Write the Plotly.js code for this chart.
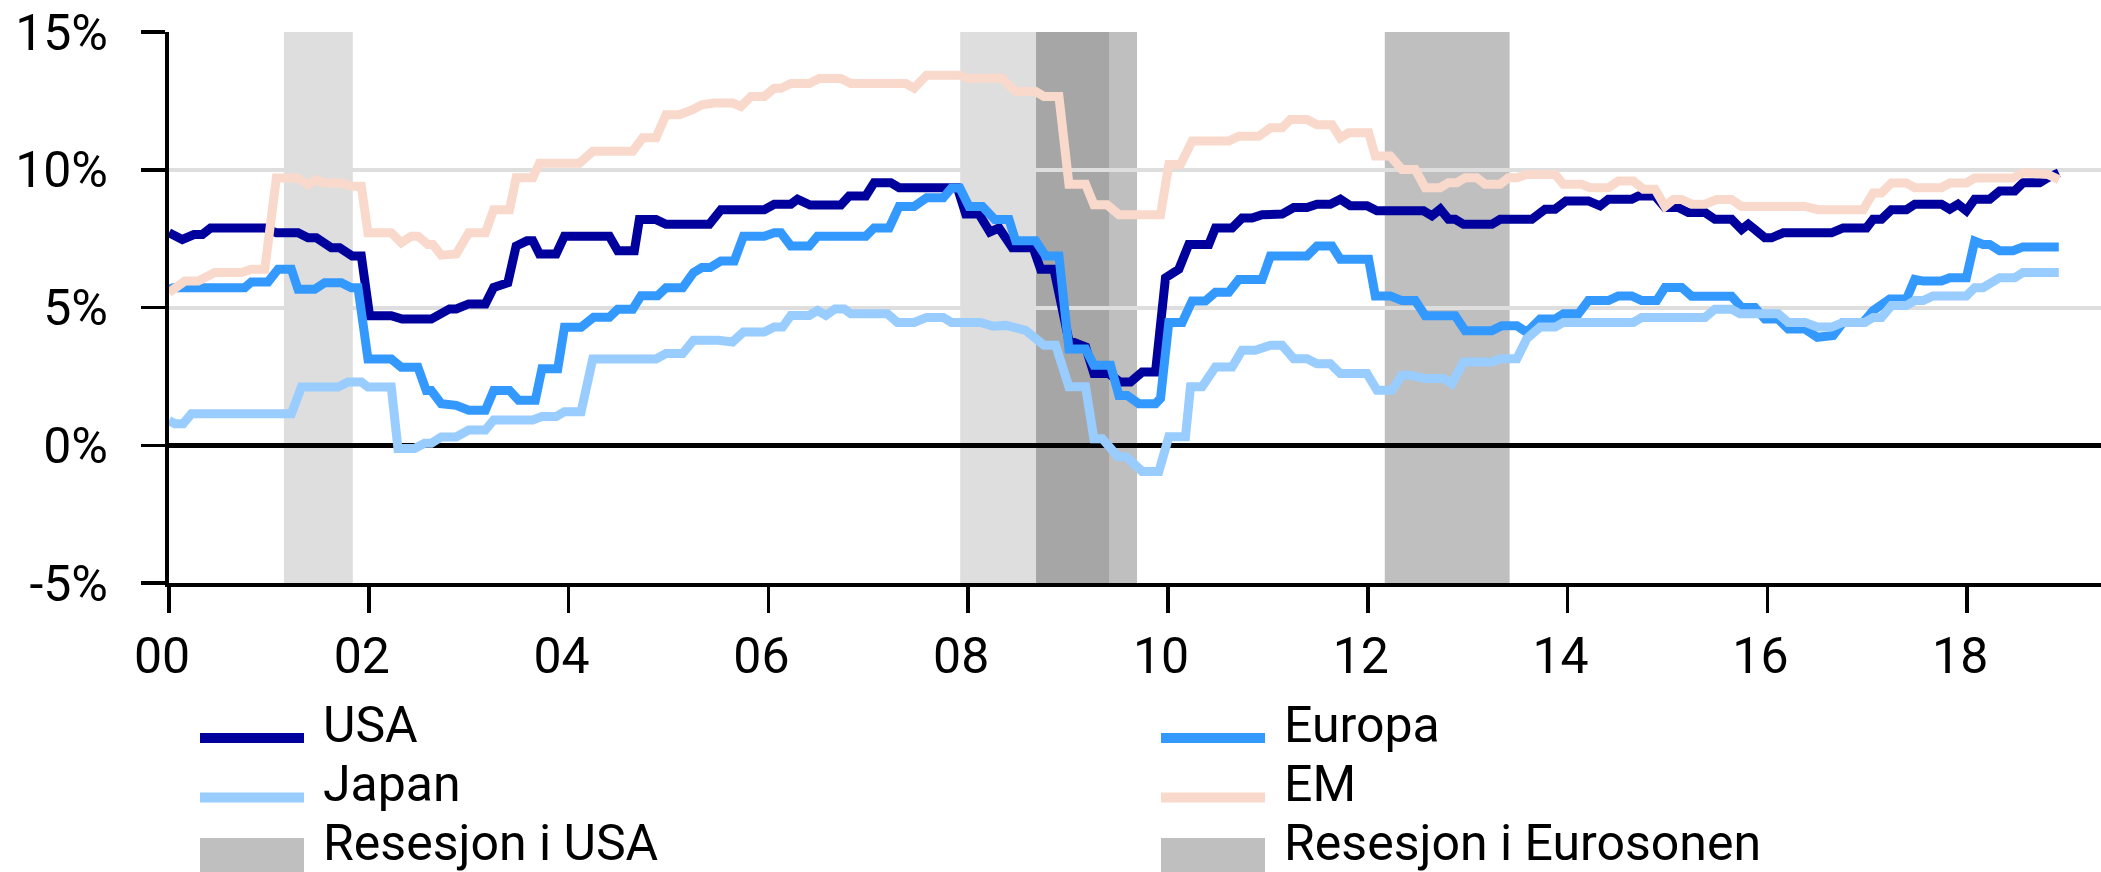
<!DOCTYPE html>
<html><head><meta charset="utf-8">
<script src="https://cdn.plot.ly/plotly-3.0.1.min.js"></script>
<style>html,body{margin:0;padding:0;background:#fff;overflow:hidden}#chart{width:2101px;height:872px}</style>
</head><body><div id="chart"></div>
<script>
// ---- data (months since Jan 2000, value in %) ----
const seriesNames = ['USA', 'Europa', 'Japan', 'EM'];
const seriesColors = ['#00009C', '#3399FF', '#99CCFF', '#F9D9CB'];

const usaMonths = [0,1.6,3,4,5,11.5,12.9,15.5,16.7,17.7,19.5,20.5,22,23.1,24.1,26.7,28,31.5,33.7,34.5,36,38,39,40.7,41.7,43,43.7,44.5,46.5,47.5,52.9,53.9,55.9,56.5,58.5,59.7,64.9,66.3,71.5,72.7,74.7,75.5,77,80.7,81.7,83.7,84.7,86.7,87.7,94.7,95.7,97.3,98.6,99.7,101.3,103.8,104.7,106.3,108.1,110.1,111.1,112.9,114.2,115.5,116.9,118.5,119.7,121.3,122.5,124.9,125.7,127.7,128.9,130.1,131.3,133.7,135.1,136.7,137.9,139.5,140.7,141.9,143.9,145.1,150.7,151.7,152.7,153.7,154.5,155.5,158.9,159.9,163.7,165.3,166.5,167.8,170.5,171.9,172.9,175.7,176.5,178.5,179.7,181.3,182.5,184.5,185.7,187.7,188.9,189.7,190.5,191.7,192.5,193.9,199.7,201.1,203.9,204.7,205.7,206.9,208.7,209.7,212.9,213.9,214.9,215.9,216.9,218.7,219.9,221.7,222.7,224.7,225.7,227];
const usaValues = [7.71,7.47,7.65,7.65,7.89,7.89,7.71,7.71,7.53,7.53,7.17,7.17,6.87,6.87,4.70,4.70,4.58,4.58,4.95,4.95,5.13,5.13,5.73,5.90,7.23,7.42,7.42,6.94,6.94,7.59,7.59,7.06,7.06,8.19,8.19,8.02,8.02,8.55,8.55,8.75,8.75,8.93,8.72,8.72,9.05,9.05,9.53,9.53,9.35,9.35,8.39,8.39,7.74,7.89,7.17,7.17,6.39,6.39,3.80,3.57,2.60,2.60,2.30,2.30,2.66,2.66,6.08,6.39,7.29,7.29,7.89,7.89,8.25,8.25,8.37,8.39,8.63,8.63,8.75,8.75,8.93,8.69,8.69,8.51,8.51,8.33,8.57,8.20,8.20,8.02,8.02,8.20,8.20,8.57,8.57,8.87,8.87,8.69,8.93,8.93,9.05,9.05,8.63,8.63,8.45,8.45,8.20,8.20,7.83,8.02,7.83,7.53,7.53,7.71,7.71,7.89,7.89,8.20,8.20,8.55,8.55,8.75,8.75,8.57,8.75,8.51,8.93,8.93,9.23,9.23,9.53,9.53,9.71,9.89];

const europaMonths = [0,0.5,9.1,9.9,11.9,13.1,14.7,15.5,17.5,18.7,20.7,21.9,22.7,23.9,26.7,27.9,29.9,30.9,31.5,32.7,34.5,36,38,39,40.9,42,44,44.8,46.7,47.5,49.5,51,52.9,53.9,55.7,56.7,58.7,59.7,61.7,63,64,65,66.3,67.9,69,71.5,72.7,73.5,74.7,76.9,77.9,83.7,84.7,86.5,87.7,89.5,91,93,94,95,96.1,97.7,99.2,100.9,101.7,104.1,105.3,106.9,108.1,110.1,111.1,113.1,114.1,115.1,116.5,118.5,119.1,120.1,121.7,122.9,124.5,125.7,127.3,128.5,131.3,132.3,136.7,137.9,139.7,140.7,144.1,144.9,146.7,148.1,149.7,150.9,154.5,155.7,158.9,160.1,161.9,163.1,164.7,166.5,167.5,169.3,170.5,172.9,174.1,175.7,176.9,178.7,179.7,181.7,182.9,187.7,188.9,190.5,191.7,193.3,194.5,196.5,198,199.9,201.1,203.5,204.7,206.7,208.7,209.7,210.7,212.9,213.9,215.9,216.9,217.9,218.7,219.9,221.5,222.7,227];
const europaValues = [5.66,5.72,5.72,5.93,5.93,6.39,6.39,5.66,5.66,5.90,5.90,5.72,5.72,3.13,3.13,2.83,2.83,1.99,1.99,1.51,1.45,1.27,1.27,1.99,1.99,1.63,1.63,2.78,2.78,4.28,4.28,4.65,4.65,4.94,4.94,5.43,5.43,5.72,5.72,6.27,6.45,6.45,6.69,6.69,7.59,7.59,7.71,7.71,7.23,7.23,7.59,7.59,7.89,7.89,8.67,8.67,8.98,8.98,9.34,9.34,8.67,8.67,8.19,8.19,7.42,7.42,6.87,6.87,3.49,3.49,2.90,2.90,1.81,1.81,1.51,1.51,1.70,4.46,4.46,5.24,5.24,5.55,5.55,6.02,6.02,6.87,6.87,7.23,7.23,6.75,6.75,5.42,5.42,5.25,5.25,4.70,4.70,4.16,4.16,4.34,4.34,4.10,4.58,4.58,4.77,4.77,5.25,5.25,5.42,5.42,5.25,5.25,5.73,5.73,5.41,5.41,5.00,5.00,4.58,4.58,4.22,4.22,3.92,3.98,4.46,4.46,4.89,5.31,5.31,6.02,5.96,5.96,6.08,6.08,7.41,7.29,7.29,7.06,7.06,7.20,7.20];

const japanMonths = [0,0.7,1.7,2.7,14.7,15.9,20.3,21.5,23.1,23.9,26.7,27.5,29.5,30.7,31.5,32.7,34.5,36,38,39,43.7,44.8,46.5,47.5,49.5,50.9,58.5,59.7,61.7,63,66,67.7,69,71.5,72.7,73.7,74.7,76.9,77.9,78.9,80,81.1,81.9,86.3,87.5,89.5,91,93,94,97.5,99,100.5,102.9,105.1,106.5,108.1,110.1,111.1,112.1,114,115,116.9,118.9,120.1,122.1,122.7,124.1,125.7,127.7,128.9,130.5,132.3,133.7,135.1,136.7,137.9,139.5,140.7,143.9,145.1,146.9,148.1,149.1,150.9,153.1,154.1,155.5,158.9,159.9,161.9,163.1,164.7,166.5,167.5,175.9,176.9,184.5,185.7,187.7,188.7,193.3,194.5,196.5,198,199.7,201.1,203.7,204.7,205.7,206.9,208.7,209.7,210.7,211.9,215.9,216.9,217.9,219.3,219.9,221.7,222.7,227];
const japanValues = [0.90,0.78,0.78,1.14,1.14,2.11,2.11,2.30,2.30,2.11,2.11,-0.12,-0.12,0.07,0.07,0.30,0.30,0.55,0.55,0.92,0.92,1.04,1.04,1.22,1.22,3.13,3.13,3.33,3.33,3.81,3.81,3.75,4.11,4.11,4.29,4.29,4.71,4.71,4.89,4.71,4.95,4.95,4.77,4.77,4.46,4.46,4.64,4.64,4.46,4.46,4.32,4.35,4.17,3.63,3.63,2.12,2.12,0.24,0.24,-0.42,-0.42,-0.95,-0.95,0.31,0.31,2.12,2.12,2.84,2.84,3.45,3.45,3.63,3.63,3.14,3.14,2.96,2.96,2.60,2.60,2.00,2.00,2.54,2.54,2.42,2.42,2.24,3.02,3.02,3.14,3.14,3.87,4.29,4.29,4.46,4.46,4.64,4.64,4.94,4.94,4.77,4.77,4.46,4.46,4.29,4.29,4.46,4.46,4.64,4.64,5.07,5.07,5.25,5.25,5.42,5.42,5.72,5.72,5.96,6.08,6.08,6.27,6.27];

const emMonths = [0,1.1,1.9,3.5,5.5,8.7,9.9,11.5,12.9,15.5,16.7,17.7,18.7,20.7,21.9,23.1,23.9,26.7,27.9,29.1,29.9,31.1,31.7,32.7,34.5,36,38,39,40.9,41.7,43.7,44.5,49.3,50.9,55.7,56.9,58.5,59.7,61.3,62.9,64,65.5,67.7,68.7,69.9,71.5,72.7,73.5,74.7,76.9,78.1,80.7,81.9,88.5,89.5,91,95,96,100,101.7,104.1,105.1,106.9,108.1,110.1,111.1,112.7,114.1,119.1,120.1,121.5,122.9,127.3,128.5,130.9,132.3,133.7,134.7,136.7,137.9,139.7,140.7,141.7,144.1,144.9,146.7,148.1,149.7,150.9,152.7,153.7,154.7,155.7,157.1,158.1,159.9,160.9,161.9,163.1,166.5,167.5,169.7,170.7,172.9,174.1,175.9,177.1,178.5,179.7,180.7,181.7,182.9,184.5,185.9,187.7,188.9,196.5,198.1,203.5,204.7,205.7,206.9,208.7,209.7,212.9,213.9,215.9,216.9,221.5,222.7,224.7,225.7,227];
const emValues = [5.54,5.78,5.96,5.96,6.27,6.27,6.39,6.39,9.70,9.70,9.46,9.64,9.52,9.52,9.40,9.40,7.71,7.71,7.35,7.59,7.59,7.29,7.29,6.90,6.94,7.71,7.71,8.55,8.55,9.71,9.71,10.24,10.24,10.67,10.67,11.16,11.16,12.00,12.00,12.18,12.36,12.42,12.42,12.30,12.66,12.66,12.96,12.96,13.13,13.13,13.31,13.31,13.13,13.13,12.96,13.43,13.43,13.31,13.33,12.84,12.84,12.66,12.66,9.47,9.47,8.73,8.73,8.37,8.37,10.19,10.19,11.04,11.04,11.22,11.22,11.52,11.52,11.82,11.82,11.63,11.63,11.16,11.34,11.34,10.50,10.50,10.01,10.01,9.35,9.35,9.53,9.53,9.71,9.71,9.47,9.47,9.71,9.71,9.83,9.83,9.47,9.47,9.35,9.35,9.59,9.59,9.29,9.29,8.67,8.92,8.92,8.75,8.75,8.92,8.92,8.67,8.67,8.55,8.55,9.16,9.16,9.52,9.52,9.35,9.35,9.52,9.52,9.70,9.70,9.89,9.89,9.83,9.64];

const recessionNames = ['Resesjon i USA', 'Resesjon i Eurosonen'];
const usRecStart = [2001.15, 2007.92];
const usRecEnd   = [2001.84, 2009.41];
const euRecStart = [2008.68, 2012.17];
const euRecEnd   = [2009.69, 2013.42];

const xTickYears  = [2000,2002,2004,2006,2008,2010,2012,2014,2016,2018];
const xTickLabels = ['00','02','04','06','08','10','12','14','16','18'];
const yTickVals   = [-5, 0, 5, 10, 15];
const yTickLabels = ['-5%', '0%', '5%', '10%', '15%'];

// ---- drawing ----
const W = 2101, H = 872, L = 169, R = 0, T = 32, B = 289;
const PW = W - L - R, PH = H - T - B;
const px = x => (x - L) / PW;
const py = y => (H - B - y) / PH;
const toYear = m => 2000 + m / 12;

const monthsList = [usaMonths, europaMonths, japanMonths, emMonths];
const valuesList = [usaValues, europaValues, japanValues, emValues];

const traces = seriesNames.map((n, i) => ({
  type: 'scatter', mode: 'lines', name: n,
  x: monthsList[i].map(toYear), y: valuesList[i],
  line: {color: seriesColors[i], width: 9},
  showlegend: false, hoverinfo: 'skip'
}));

const shapes = [];
const US_COL = '#DEDEDE', EU_COL = '#BFBFBF', BOTH_COL = '#A6A6A6';
usRecStart.forEach((s, i) => shapes.push({type:'rect', xref:'x', yref:'paper', x0:s, x1:usRecEnd[i], y0:0, y1:1, fillcolor:US_COL, line:{width:0}, layer:'below'}));
euRecStart.forEach((s, i) => shapes.push({type:'rect', xref:'x', yref:'paper', x0:s, x1:euRecEnd[i], y0:0, y1:1, fillcolor:EU_COL, line:{width:0}, layer:'below'}));
usRecStart.forEach((s, i) => euRecStart.forEach((e, j) => {
  const a = Math.max(s, e), b = Math.min(usRecEnd[i], euRecEnd[j]);
  if (b > a) shapes.push({type:'rect', xref:'x', yref:'paper', x0:a, x1:b, y0:0, y1:1, fillcolor:BOTH_COL, line:{width:0}, layer:'below'});
}));

// manual legend
const FONT = {family: 'Roboto, "Liberation Sans", Arial, sans-serif', size: 50, color: '#000'};
const legendItems = [
  {name: seriesNames[0], color: seriesColors[0], kind: 'line', col: 0, row: 0},
  {name: seriesNames[1], color: seriesColors[1], kind: 'line', col: 1, row: 0},
  {name: seriesNames[2], color: seriesColors[2], kind: 'line', col: 0, row: 1},
  {name: seriesNames[3], color: seriesColors[3], kind: 'line', col: 1, row: 1},
  {name: recessionNames[0], color: EU_COL, kind: 'box', col: 0, row: 2},
  {name: recessionNames[1], color: EU_COL, kind: 'box', col: 1, row: 2}
];
const colX = [200, 1161], symW = 104, textGap = 17;
const rowLineY = [738, 797.5], rowTextY = [724.5, 783.5, 843];
const annotations = [];
legendItems.forEach(it => {
  const x0 = colX[it.col];
  if (it.kind === 'line') {
    shapes.push({type:'line', xref:'paper', yref:'paper', x0:px(x0), x1:px(x0+symW), y0:py(rowLineY[it.row]), y1:py(rowLineY[it.row]), line:{color:it.color, width:10}});
  } else {
    shapes.push({type:'rect', xref:'paper', yref:'paper', x0:px(x0), x1:px(x0+symW), y0:py(838), y1:py(880), fillcolor:it.color, line:{width:0}});
  }
  annotations.push({xref:'paper', yref:'paper', x:px(x0+symW+textGap), y:py(rowTextY[it.row]), xanchor:'left', yanchor:'middle', text:it.name, showarrow:false, font:FONT});
});

const layout = {
  width: W, height: H,
  margin: {l: L, r: R, t: T, b: B, pad: 0},
  paper_bgcolor: '#fff', plot_bgcolor: '#fff',
  showlegend: false,
  font: FONT,
  xaxis: {
    range: [2000, 2000 + (W - L) / 99.9],
    tickmode: 'array', tickvals: xTickYears, ticktext: xTickLabels,
    showgrid: false, zeroline: false,
    showline: true, linecolor: '#000', linewidth: 4,
    ticks: 'outside', ticklen: 26, tickwidth: 3.5, tickcolor: '#000',
    tickfont: FONT, ticklabelshift: -7, ticklabelstandoff: 0
  },
  yaxis: {
    range: [-5, 15],
    tickmode: 'array', tickvals: yTickVals, ticktext: yTickLabels,
    showgrid: true, gridcolor: '#DEDEDE', gridwidth: 4,
    zeroline: true, zerolinecolor: '#000', zerolinewidth: 4.5,
    showline: true, linecolor: '#000', linewidth: 4,
    ticks: 'outside', ticklen: 24, tickwidth: 3.5, tickcolor: '#000',
    tickfont: FONT, ticklabelstandoff: 23
  },
  shapes: shapes,
  annotations: annotations
};

Plotly.newPlot('chart', traces, layout, {staticPlot: true, displayModeBar: false});
</script></body></html>
